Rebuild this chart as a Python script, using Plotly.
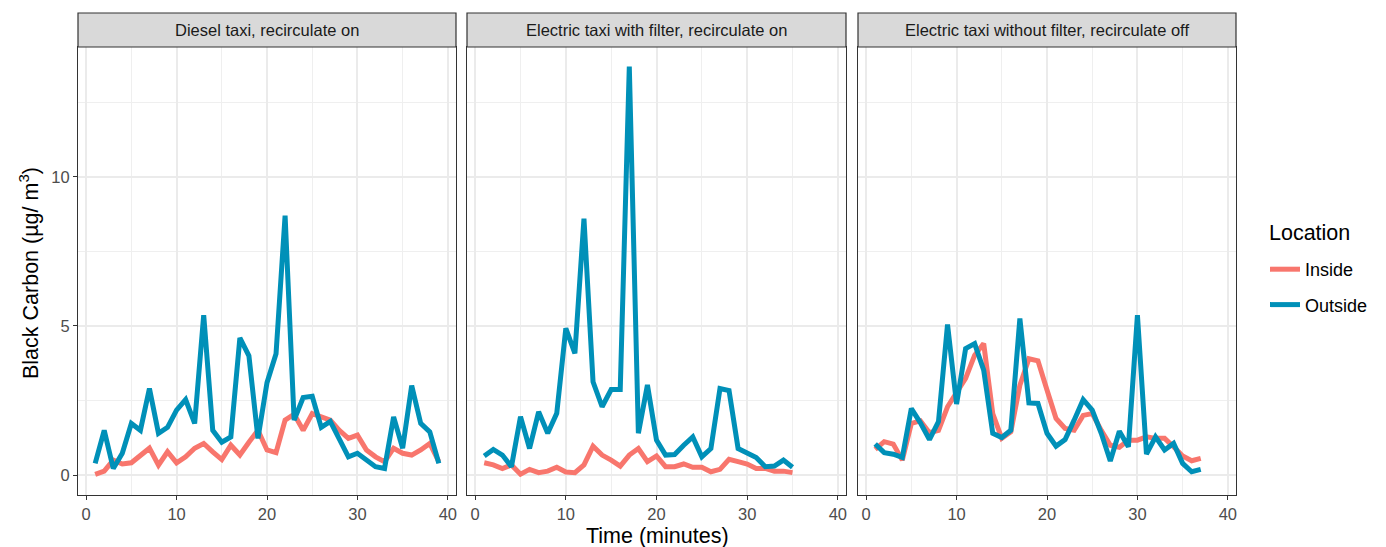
import plotly.graph_objects as go

# ---- data ----
panel_titles = ["Diesel taxi, recirculate on",
                "Electric taxi with filter, recirculate on",
                "Electric taxi without filter, recirculate off"]

diesel_time = list(range(1, 40))
diesel_inside = [0.02, 0.13, 0.5, 0.37, 0.41, 0.67, 0.9, 0.33, 0.78, 0.41, 0.61, 0.9, 1.06, 0.78, 0.52,
                 1.0, 0.67, 1.1, 1.5, 0.84, 0.75, 1.84, 2.04, 1.5, 2.06, 1.95, 1.84, 1.5, 1.23, 1.34,
                 0.84, 0.61, 0.45, 0.9, 0.73, 0.67, 0.84, 1.06, 0.45]
diesel_outside = [0.39, 1.5, 0.22, 0.73, 1.73, 1.5, 2.9, 1.4, 1.6, 2.18, 2.53, 1.73, 5.36, 1.5, 1.1,
                  1.28, 4.6, 4.0, 1.23, 3.1, 4.07, 8.7, 1.84, 2.6, 2.64, 1.6, 1.8, 1.23, 0.61, 0.73,
                  0.48, 0.28, 0.22, 1.95, 0.9, 3.0, 1.73, 1.45, 0.39]

filter_time = list(range(1, 36))
filter_inside = [0.41, 0.34, 0.22, 0.34, 0.03, 0.19, 0.08, 0.13, 0.26, 0.1, 0.08, 0.34, 0.97, 0.67, 0.5,
                 0.3, 0.67, 0.89, 0.45, 0.64, 0.28, 0.28, 0.37, 0.26, 0.26, 0.11, 0.19, 0.53, 0.45, 0.37,
                 0.22, 0.22, 0.13, 0.13, 0.08]
filter_outside = [0.64, 0.86, 0.67, 0.28, 1.96, 0.89, 2.12, 1.4, 2.07, 4.92, 4.08, 8.6, 3.13, 2.29, 2.87,
                  2.87, 13.7, 1.4, 3.02, 1.17, 0.67, 0.69, 1.0, 1.28, 0.61, 0.89, 2.9, 2.83, 0.89, 0.75,
                  0.59, 0.28, 0.3, 0.5, 0.26]

nofilter_time = list(range(1, 38))
nofilter_inside = [0.86, 1.12, 1.04, 0.5, 1.73, 1.82, 1.42, 1.5, 2.29, 2.73, 3.24, 4.02, 4.41, 2.06, 1.23,
                   1.45, 3.01, 3.9, 3.83, 2.85, 1.9, 1.56, 1.5, 2.0, 2.06, 1.5, 1.0, 0.93, 1.17, 1.17,
                   1.28, 1.23, 1.23, 0.95, 0.64, 0.48, 0.56]
nofilter_outside = [1.04, 0.75, 0.7, 0.59, 2.23, 1.75, 1.19, 1.79, 5.05, 2.38, 4.24, 4.41, 3.52, 1.4, 1.26,
                    1.5, 5.25, 2.42, 2.4, 1.4, 0.97, 1.19, 1.84, 2.53, 2.18, 1.4, 0.47, 1.47, 0.95, 5.36,
                    0.7, 1.28, 0.84, 1.06, 0.39, 0.11, 0.19]

x_ticks = [0, 10, 20, 30, 40]
y_ticks = [0, 5, 10]
series_names = ["Inside", "Outside"]
series_colors = ["#F8766D", "#0090B8"]
legend_title = "Location"

panels = [
    (diesel_time, diesel_inside, diesel_outside),
    (filter_time, filter_inside, filter_outside),
    (nofilter_time, nofilter_inside, nofilter_outside),
]

# ---- layout geometry (pixels) ----
W, H = 1386, 547
L, R, T, B = 78, 1236, 47, 495
pw = R - L
ph = B - T
panel_px = [(78, 456), (467, 846), (858, 1236)]
strip_top = 13

fig = go.Figure()
font_family = "Liberation Sans, Arial, sans-serif"

for i, (t, inside, outside) in enumerate(panels):
    xa = "x" if i == 0 else f"x{i+1}"
    ya = "y" if i == 0 else f"y{i+1}"
    for name, vals, col in zip(series_names, [inside, outside], series_colors):
        fig.add_trace(go.Scatter(
            x=t, y=vals, mode="lines", name=name,
            line=dict(color=col, width=5),
            xaxis=xa, yaxis=ya, legendgroup=name, showlegend=(i == 0),
        ))

axis_common = dict(
    showline=True, mirror=True, linecolor="#333333", linewidth=1.2,
    showgrid=True, gridcolor="#EBEBEB", gridwidth=1.5, zeroline=False,
    ticks="outside", ticklen=4, tickcolor="#333333", tickwidth=1.2,
    tickfont=dict(size=16.5, color="#4D4D4D", family=font_family),
)

layout_axes = {}
for i, (x0, x1) in enumerate(panel_px):
    xk = "xaxis" if i == 0 else f"xaxis{i+1}"
    yk = "yaxis" if i == 0 else f"yaxis{i+1}"
    xa = "x" if i == 0 else f"x{i+1}"
    ya = "y" if i == 0 else f"y{i+1}"
    layout_axes[xk] = dict(
        axis_common, domain=[(x0 - L) / pw, (x1 - L) / pw], anchor=ya,
        range=[-0.9, 40.9], tickvals=x_ticks,
        minor=dict(dtick=5, tick0=0, showgrid=True, gridcolor="#EFEFEF", gridwidth=0.9, ticks=""),
    )
    layout_axes[yk] = dict(
        axis_common, domain=[0, 1], anchor=xa,
        range=[-0.67, 14.36], tickvals=y_ticks,
        showticklabels=(i == 0), ticks=("outside" if i == 0 else ""),
        minor=dict(dtick=2.5, tick0=0, showgrid=True, gridcolor="#EFEFEF", gridwidth=0.9, ticks=""),
    )

shapes = []
annotations = []
for i, (x0, x1) in enumerate(panel_px):
    shapes.append(dict(
        type="rect", xref="paper", yref="paper",
        x0=(x0 - L) / pw, x1=(x1 - L) / pw,
        y0=1, y1=(B - strip_top) / ph,
        fillcolor="#D9D9D9", line=dict(color="#333333", width=1.2), layer="above",
    ))
    annotations.append(dict(
        text=panel_titles[i], xref="paper", yref="paper",
        x=((x0 + x1) / 2 - L) / pw, y=(B - (strip_top + T) / 2) / ph,
        showarrow=False, xanchor="center", yanchor="middle",
        font=dict(size=16.5, color="#1A1A1A", family=font_family),
    ))

annotations.append(dict(
    text="Time (minutes)", xref="paper", yref="paper",
    x=0.5, y=(B - 536) / ph, showarrow=False, xanchor="center", yanchor="middle",
    font=dict(size=21.5, color="black", family=font_family),
))
annotations.append(dict(
    text="Black Carbon (µg/ m<sup>3</sup>)", xref="paper", yref="paper",
    x=(29 - L) / pw, y=(B - 273) / ph, showarrow=False, textangle=-90,
    xanchor="center", yanchor="middle",
    font=dict(size=21.5, color="black", family=font_family),
))
# legend title
annotations.append(dict(
    text=legend_title, xref="paper", yref="paper",
    x=(1267 - L) / pw, y=(B - 233) / ph, showarrow=False, xanchor="left", yanchor="middle",
    font=dict(size=21.5, color="black", family=font_family),
))

fig.update_layout(
    width=W, height=H,
    margin=dict(l=L, r=W - R, t=T, b=H - B),
    paper_bgcolor="white", plot_bgcolor="white",
    font=dict(family=font_family),
    shapes=shapes, annotations=annotations,
    showlegend=True,
    legend=dict(
        font=dict(size=18, color="black", family=font_family),
        x=(1265 - L) / pw, y=(B - 251) / ph, xanchor="left", yanchor="top",
        traceorder="grouped", tracegroupgap=9, bgcolor="rgba(0,0,0,0)",
    ),
    **layout_axes,
)

fig.write_html("out.html")
